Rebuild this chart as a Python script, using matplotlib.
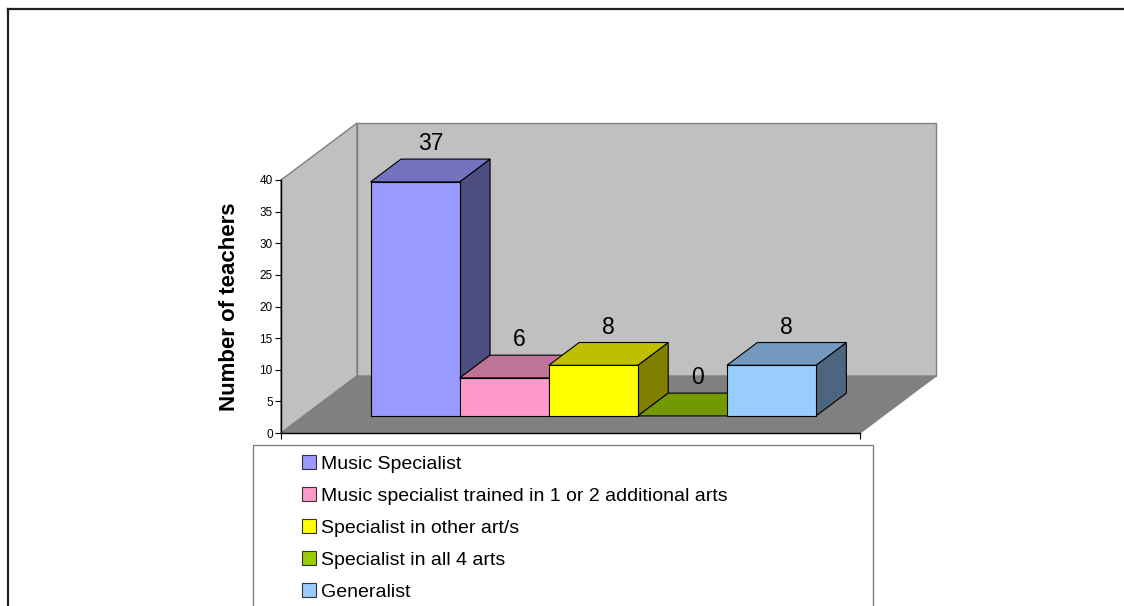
import matplotlib
matplotlib.use("Agg")
import matplotlib.pyplot as plt
from matplotlib.patches import Polygon, Rectangle, Patch
from matplotlib.lines import Line2D

plt.rcParams["font.family"] = ["Liberation Sans", "DejaVu Sans"]

# Data
categories = [
    "Music Specialist",
    "Music specialist trained in 1 or 2 additional arts",
    "Specialist in other art/s",
    "Specialist in all 4 arts",
    "Generalist",
]
values = [37, 6, 8, 0, 8]
yticks = [0, 5, 10, 15, 20, 25, 30, 35, 40]

# Excel-style 3D colours: front, top, side
front_colors = ["#9999FF", "#FF99CC", "#FFFF00", "#99CC00", "#99CCFF"]
top_colors = ["#7373BF", "#BF7399", "#BFBF00", "#739900", "#7399BF"]
side_colors = ["#4D4D80", "#804D66", "#808000", "#4D6600", "#4D6680"]

W, H = 1124, 606


def px_rect(left, top, right, bottom):
    """Convert pixel box to figure fraction [l, b, w, h]."""
    return [left / W, 1 - bottom / H, (right - left) / W, (bottom - top) / H]


fig = plt.figure(figsize=(W / 100, H / 100), dpi=100)

# outer frame (left and top edges visible)
fig.add_artist(Line2D([8 / W, 8 / W], [0, 1 - 9 / H], color="#222222", lw=1.6))
fig.add_artist(Line2D([8 / W, 1], [1 - 9 / H, 1 - 9 / H], color="#222222", lw=1.6))

ax = fig.add_axes(px_rect(281, 180, 860, 433))
ax.patch.set_visible(False)
x0, x1 = -1.25, len(values) - 0.5 + 0.75
ax.set_xlim(x0, x1)
ax.set_ylim(0, 40)

# depth of the 3D box in data units
dx, dy = 0.853, 9.01
ymax = yticks[-1]

wall_kw = dict(facecolor="#C0C0C0", edgecolor="#808080", lw=1, clip_on=False, zorder=1)
ax.add_patch(Polygon([(x0, 0), (x0, ymax), (x0 + dx, ymax + dy), (x0 + dx, dy)], **wall_kw))
ax.add_patch(Polygon([(x0 + dx, dy), (x0 + dx, ymax + dy), (x1 + dx, ymax + dy), (x1 + dx, dy)], **wall_kw))
ax.add_patch(Polygon([(x0, 0), (x1, 0), (x1 + dx, dy), (x0 + dx, dy)],
                     facecolor="#808080", edgecolor="#808080", lw=1, clip_on=False, zorder=1))

# bars sit between 30% and 70% of the depth
f0, bd = 0.3, 0.4
bdx, bdy = bd * dx, bd * dy
edge = dict(edgecolor="black", lw=0.8, clip_on=False, zorder=3)
for i, v in enumerate(values):
    xl = i - 0.5 + f0 * dx
    y0 = f0 * dy
    ax.add_patch(Polygon([(xl + 1, y0), (xl + 1, y0 + v), (xl + 1 + bdx, y0 + v + bdy),
                          (xl + 1 + bdx, y0 + bdy)], facecolor=side_colors[i], **edge))
    ax.add_patch(Polygon([(xl, y0 + v), (xl + 1, y0 + v), (xl + 1 + bdx, y0 + v + bdy),
                          (xl + bdx, y0 + v + bdy)], facecolor=top_colors[i], **edge))
    if v > 0:
        ax.add_patch(Rectangle((xl, y0), 1, v, facecolor=front_colors[i], **edge))
    ax.annotate(str(v), (xl + 0.5 + bdx / 2, y0 + v + bdy / 2), xytext=(0, 11),
                textcoords="offset points", ha="center", va="bottom", fontsize=16.5,
                annotation_clip=False, zorder=5)

for side in ["top", "right"]:
    ax.spines[side].set_visible(False)
for side in ["left", "bottom"]:
    ax.spines[side].set_color("black")
    ax.spines[side].set_linewidth(1)
    ax.spines[side].set_zorder(4)

ax.set_yticks(yticks)
ax.tick_params(axis="y", length=4, width=0.8, labelsize=8.5, pad=2)
ax.set_xticks([x0, x1])
ax.set_xticklabels([])
ax.tick_params(axis="x", length=4, width=0.8)
ax.set_ylabel("Number of teachers", fontsize=16, fontweight="bold", labelpad=14)

# legend box (runs off the bottom of the image)
fig.add_artist(Rectangle((253 / W, -0.1), (873 - 253) / W, 1.1 - 445 / H, transform=fig.transFigure,
                         facecolor="white", edgecolor="#808080", lw=1))
handles = [Patch(facecolor=c, edgecolor="#333333", lw=0.8) for c in front_colors]
fig.legend(handles, categories, loc="upper left", bbox_to_anchor=(294 / W, 1 - 447 / H),
           frameon=False, fontsize=14, handlelength=0.72, handleheight=0.72,
           handletextpad=0.25, labelspacing=0.74, borderaxespad=0)

fig.savefig("out.png", dpi=100)
plt.close(fig)
